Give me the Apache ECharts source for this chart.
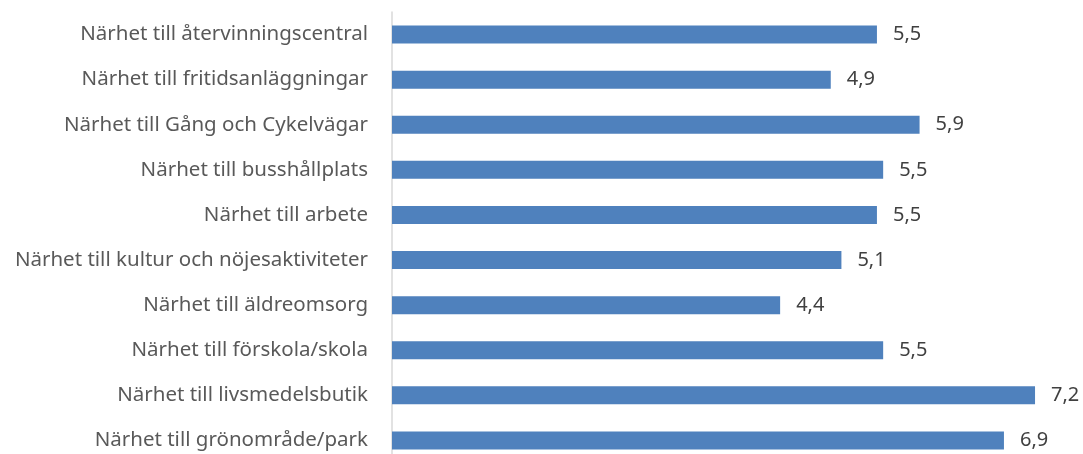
<!DOCTYPE html>
<html>
<head>
<meta charset="utf-8">
<script src="https://cdn.jsdelivr.net/npm/echarts@6/dist/echarts.min.js"></script>
<style>html,body{margin:0;padding:0;background:#fff;overflow:hidden;}#c{width:1083px;height:470px;}</style>
</head>
<body>
<div id="c"></div>
<script>
const categories = [
  "Närhet till återvinningscentral",
  "Närhet till fritidsanläggningar",
  "Närhet till Gång och Cykelvägar",
  "Närhet till busshållplats",
  "Närhet till arbete",
  "Närhet till kultur och nöjesaktiviteter",
  "Närhet till äldreomsorg",
  "Närhet till förskola/skola",
  "Närhet till livsmedelsbutik",
  "Närhet till grönområde/park"
];
const values = [5.46, 4.94, 5.94, 5.53, 5.46, 5.06, 4.37, 5.53, 7.24, 6.89];

const chart = echarts.init(document.getElementById('c'));
chart.setOption({
  animation: false,
  grid: { left: 392, top: 12, right: 0, height: 451, containLabel: false },
  xAxis: { type: 'value', min: 0, max: 7.78, show: false },
  yAxis: {
    type: 'category', inverse: true, data: categories,
    axisLine: { show: true, lineStyle: { color: '#d9d9d9', width: 1.5 } },
    axisTick: { show: false },
    axisLabel: { color: '#595959', fontFamily: 'Noto Sans', fontSize: 20.5, margin: 24 }
  },
  series: [{
    type: 'bar', data: values, barCategoryGap: '60%',
    itemStyle: { color: '#4F81BD' },
    label: {
      show: true, position: 'right', distance: 16,
      color: '#404040', fontFamily: 'Noto Sans', fontSize: 20,
      formatter: p => p.value.toFixed(1).replace('.', ',')
    }
  }]
});
</script>
</body>
</html>
